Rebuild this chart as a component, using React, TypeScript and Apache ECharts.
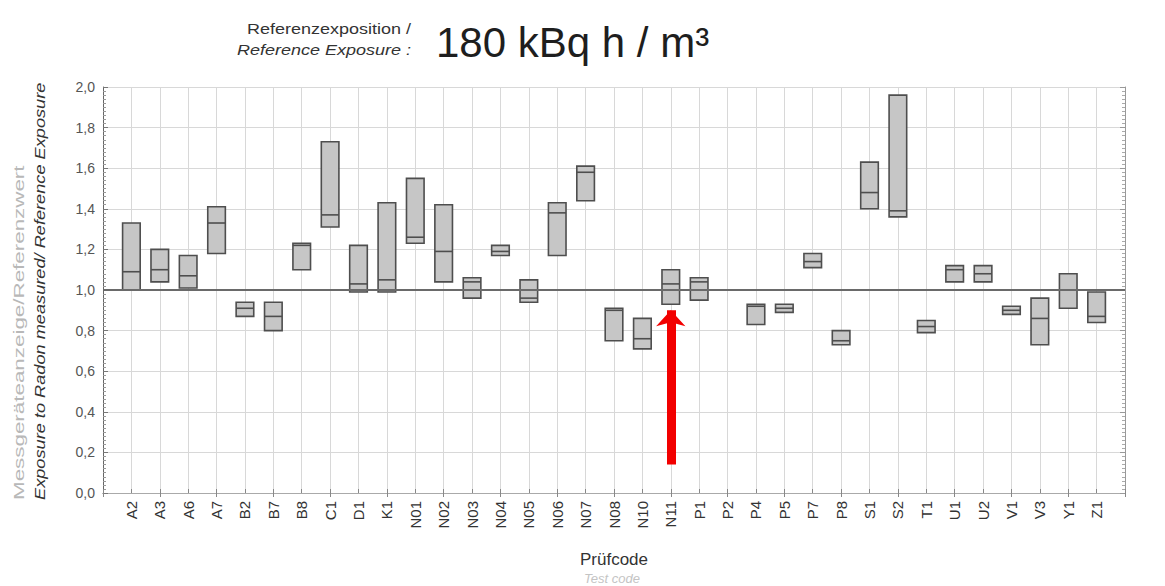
import React, { useEffect, useRef } from "react";
import * as echarts from "echarts";

const codes = ["A2","A3","A6","A7","B2","B7","B8","C1","D1","K1","N01","N02","N03","N04","N05","N06","N07","N08","N10","N11","P1","P2","P4","P5","P7","P8","S1","S2","T1","U1","U2","V1","V3","Y1","Z1"];
// null = no result
const lows: (number | null)[] = [1.00,1.04,1.01,1.18,0.87,0.80,1.10,1.31,0.99,0.99,1.23,1.04,0.96,1.17,0.94,1.17,1.44,0.75,0.71,0.93,0.95,null,0.83,0.89,1.11,0.73,1.40,1.36,0.79,1.04,1.04,0.88,0.73,0.91,0.84];
const highs: (number | null)[] = [1.33,1.20,1.17,1.41,0.94,0.94,1.23,1.73,1.22,1.43,1.55,1.42,1.06,1.22,1.05,1.43,1.61,0.91,0.86,1.10,1.06,null,0.93,0.93,1.18,0.80,1.63,1.96,0.85,1.12,1.12,0.92,0.96,1.08,0.99];
const medians: (number | null)[] = [1.09,1.10,1.07,1.33,0.91,0.87,1.22,1.37,1.03,1.05,1.26,1.19,1.04,1.19,0.96,1.38,1.58,0.90,0.76,1.03,1.04,null,0.92,0.91,1.14,0.75,1.48,1.39,0.82,1.10,1.08,0.90,0.86,1.00,0.87];
const yTicks = [0, 0.2, 0.4, 0.6, 0.8, 1.0, 1.2, 1.4, 1.6, 1.8, 2.0];
const referenceRatio = 1.0;
const arrowCode = "N11";
const arrowFrom = 0.14;
const arrowTo = 0.9;

export default function App() {
  const ref = useRef<HTMLDivElement>(null);
  useEffect(() => {
    if (!ref.current) return;
    const chart = echarts.init(ref.current, null, { renderer: "svg" });
    const cats = ["", ...codes, ""];
    const boxData: any[] = [];
    codes.forEach((c, i) => {
      if (lows[i] != null && highs[i] != null) {
        boxData.push([i + 1, lows[i], highs[i], medians[i]]);
      }
    });
    const font = "'Liberation Sans', Arial, sans-serif";
    chart.setOption({
      animation: false,
      backgroundColor: "#fff",
      textStyle: { fontFamily: font },
      grid: { left: 103, right: 40, top: 87, bottom: 93, containLabel: false },
      xAxis: [
        {
          type: "category",
          data: cats,
          boundaryGap: false,
          axisLine: { show: true, lineStyle: { color: "#666", width: 1 } },
          axisTick: { show: true, inside: true, length: 4, lineStyle: { color: "#888" } },
          axisLabel: {
            rotate: 90,
            fontSize: 15,
            color: "#333",
            margin: 8,
            interval: 0,
            fontFamily: font,
          },
          splitLine: { show: true, lineStyle: { color: "#d8d8d8", width: 1 } },
          name: "Prüfcode",
          nameLocation: "middle",
          nameGap: 58,
          nameTextStyle: { fontSize: 17, color: "#333", fontFamily: font },
        },
        {
          type: "category",
          data: cats,
          boundaryGap: false,
          position: "top",
          axisLine: { show: true, lineStyle: { color: "#aaa" } },
          axisTick: { show: true, inside: true, length: 4, lineStyle: { color: "#888" } },
          axisLabel: { show: false },
          splitLine: { show: false },
        },
      ],
      yAxis: [
        {
          type: "value",
          min: yTicks[0],
          max: yTicks[yTicks.length - 1],
          interval: 0.2,
          axisLine: { show: true, lineStyle: { color: "#666" } },
          axisTick: { show: true, inside: true, length: 5, lineStyle: { color: "#777" } },
          minorTick: { show: true, splitNumber: 10, length: 3, lineStyle: { color: "#999" } },
          axisLabel: {
            fontSize: 14,
            color: "#555",
            margin: 8,
            fontFamily: font,
            formatter: (v: number) => v.toFixed(1).replace(".", ","),
          },
          splitLine: { show: true, lineStyle: { color: "#d8d8d8", width: 1 } },
        },
        {
          type: "value",
          min: yTicks[0],
          max: yTicks[yTicks.length - 1],
          interval: 0.2,
          position: "right",
          axisLine: { show: true, lineStyle: { color: "#999" } },
          axisTick: { show: true, inside: true, length: 5, lineStyle: { color: "#999" } },
          minorTick: { show: true, splitNumber: 10, length: 3, lineStyle: { color: "#aaa" } },
          axisLabel: { show: false },
          splitLine: { show: false },
        },
      ],
      series: [
        {
          type: "custom",
          data: boxData,
          encode: { x: 0, y: [1, 2, 3] },
          renderItem: (params: any, api: any) => {
            const x = api.value(0);
            const lo = api.coord([x, api.value(1)]);
            const hi = api.coord([x, api.value(2)]);
            const md = api.coord([x, api.value(3)]);
            const w = api.size([1, 0])[0] * 0.62;
            return {
              type: "group",
              children: [
                {
                  type: "rect",
                  shape: { x: hi[0] - w / 2, y: hi[1], width: w, height: lo[1] - hi[1] },
                  style: { fill: "#c6c6c6", stroke: "#4e4e4e", lineWidth: 1.6 },
                },
                {
                  type: "line",
                  shape: { x1: md[0] - w / 2, y1: md[1], x2: md[0] + w / 2, y2: md[1] },
                  style: { stroke: "#4e4e4e", lineWidth: 1.6 },
                },
              ],
            };
          },
          z: 3,
        },
        {
          type: "line",
          data: [],
          markLine: {
            silent: true,
            symbol: "none",
            label: { show: false },
            lineStyle: { color: "#6a6a6a", width: 2, type: "solid" },
            data: [{ yAxis: referenceRatio }],
          },
          z: 2,
        },
        {
          type: "line",
          data: [],
          markLine: {
            silent: true,
            symbol: ["none", "arrow"],
            symbolSize: [22, 16],
            label: { show: false },
            lineStyle: { color: "#f20000", width: 9, type: "solid" },
            itemStyle: { color: "#f20000" },
            data: [[{ coord: [arrowCode, arrowFrom] }, { coord: [arrowCode, arrowTo] }]],
          },
          z: 5,
        },
      ],
      graphic: [
        {
          type: "text",
          x: 411,
          y: 29,
          scaleX: 1.2,
          style: { text: "Referenzexposition /", fontSize: 15, fill: "#333", textAlign: "right", textVerticalAlign: "middle", fontFamily: font },
        },
        {
          type: "text",
          x: 411,
          y: 50,
          scaleX: 1.2,
          style: { text: "Reference Exposure :", fontSize: 15, fontStyle: "italic", fill: "#333", textAlign: "right", textVerticalAlign: "middle", fontFamily: font },
        },
        {
          type: "text",
          x: 436,
          y: 42,
          style: { text: "180 kBq h / m³", fontSize: 42, fill: "#1e1e1e", textAlign: "left", textVerticalAlign: "middle", fontFamily: font },
        },
        {
          type: "text",
          x: 19,
          y: 500,
          rotation: Math.PI / 2,
          scaleX: 1.6,
          style: { text: "Messgeräteanzeige/Referenzwert", fontSize: 14, fill: "#b8b8b8", textAlign: "left", textVerticalAlign: "middle", fontFamily: font },
        },
        {
          type: "text",
          x: 40,
          y: 500,
          rotation: Math.PI / 2,
          scaleX: 1.3,
          style: { text: "Exposure to Radon measured/ Reference Exposure", fontSize: 14, fontStyle: "italic", fill: "#333", textAlign: "left", textVerticalAlign: "middle", fontFamily: font },
        },
        {
          type: "text",
          x: 612,
          y: 578,
          style: { text: "Test code", fontSize: 13, fontStyle: "italic", fill: "#c4c4c4", textAlign: "center", textVerticalAlign: "middle", fontFamily: font },
        },
      ],
    });
    return () => chart.dispose();
  }, []);
  return (
    <div
      ref={ref}
      style={{ position: "absolute", left: 0, top: 0, width: 1165, height: 586 }}
    />
  );
}
